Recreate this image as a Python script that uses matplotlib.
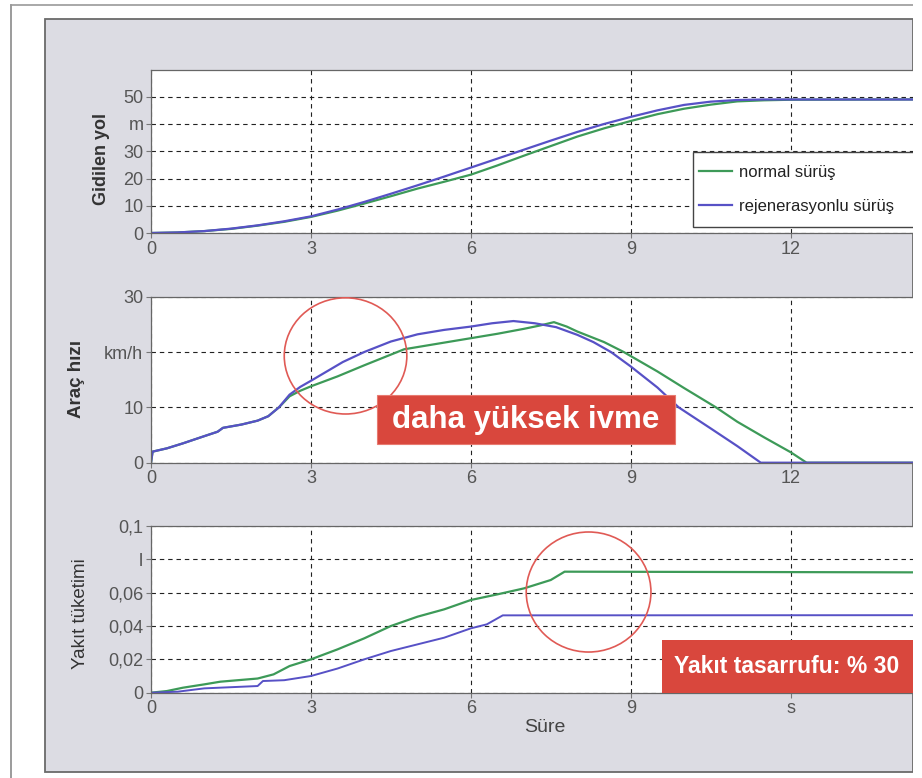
import matplotlib
matplotlib.use("Agg")
import matplotlib.pyplot as plt
from matplotlib.patches import Rectangle, Ellipse

plt.rcParams['font.family'] = ['Liberation Sans', 'DejaVu Sans']

# ---------------- data ----------------
labels = ["normal sürüş", "rejenerasyonlu sürüş"]

# distance (m)
t_dist_norm = [0, 0.5, 1, 1.5, 2, 2.5, 3, 3.5, 4, 4.5, 5, 5.5, 6, 6.5, 7, 7.5, 8, 8.5, 9, 9.5, 10, 10.5, 11, 11.5, 12, 14.3]
d_norm = [0, 0.2, 0.7, 1.5, 2.7, 4.1, 5.9, 8.2, 10.8, 13.5, 16.3, 18.8, 21.4, 24.8, 28.4, 31.9, 35.4, 38.4,
          41.1, 43.6, 45.6, 47.1, 48.3, 48.7, 48.9, 49.0]
t_dist_regen = [0, 0.5, 1, 1.5, 2, 2.5, 3, 3.5, 4, 4.5, 5, 5.5, 6, 6.5, 7, 7.5, 8, 8.5, 9, 9.5, 10, 10.5, 11, 11.5, 14.3]
d_regen = [0, 0.2, 0.7, 1.6, 2.8, 4.3, 6.1, 8.6, 11.4, 14.4, 17.5, 20.7, 24.0, 27.3, 30.6, 33.9, 37.1, 40.0,
           42.6, 45.0, 47.0, 48.2, 48.8, 49.0, 49.0]

# speed (km/h)
t_v_norm = [0, 0.03, 0.3, 0.6, 1.0, 1.25, 1.35, 1.7, 2.0, 2.2, 2.4, 2.6, 2.8, 3.0, 3.5, 4.0, 4.75,
            5.5, 6.0, 6.5, 7.0, 7.3, 7.56, 7.8, 8.0, 8.5, 8.87, 9.5, 10.0, 10.6, 11.0, 11.5, 12.0, 12.3, 14.3]
v_norm = [0, 2.0, 2.6, 3.5, 4.8, 5.6, 6.3, 6.9, 7.6, 8.4, 10.0, 12.0, 13.0, 13.8, 15.6, 17.6, 20.5,
          21.7, 22.5, 23.3, 24.2, 24.8, 25.4, 24.6, 23.7, 21.8, 20.0, 16.5, 13.5, 10.0, 7.4, 4.6, 1.9, 0, 0]
t_v_regen = [0, 0.03, 0.3, 0.6, 1.0, 1.25, 1.35, 1.7, 2.0, 2.2, 2.4, 2.6, 2.8, 3.0, 3.3, 3.6, 4.0, 4.5,
             5.0, 5.5, 6.0, 6.4, 6.8, 7.2, 7.6, 8.0, 8.3, 8.63, 9.0, 9.5, 9.9, 10.5, 11.0, 11.44, 14.3]
v_regen = [0, 2.0, 2.6, 3.5, 4.8, 5.6, 6.3, 6.9, 7.6, 8.4, 10.0, 12.3, 13.7, 14.8, 16.5, 18.2, 20.0, 21.9,
           23.2, 24.0, 24.6, 25.2, 25.6, 25.2, 24.5, 23.1, 21.8, 20.0, 17.4, 13.6, 10.0, 6.2, 3.0, 0, 0]

# fuel consumption (l)
t_f_norm = [0, 0.3, 0.6, 1.0, 1.3, 2.0, 2.3, 2.6, 3.0, 3.5, 4.0, 4.5, 5.0, 5.5, 6.0, 6.5, 7.0, 7.5, 7.76, 14.3]
f_norm = [0, 0.001, 0.003, 0.005, 0.0066, 0.0085, 0.011, 0.016, 0.020, 0.026, 0.0326, 0.040, 0.0456,
          0.050, 0.0556, 0.059, 0.0626, 0.0676, 0.0726, 0.0722]
t_f_regen = [0, 0.5, 1.0, 2.0, 2.1, 2.5, 3.0, 3.5, 4.0, 4.5, 5.0, 5.5, 6.0, 6.3, 6.6, 14.3]
f_regen = [0, 0.0006, 0.0026, 0.004, 0.007, 0.0075, 0.010, 0.0145, 0.020, 0.025, 0.029, 0.033,
           0.0386, 0.041, 0.0464, 0.0465]

x_ticks = [0, 3, 6, 9, 12]
x_ticklabels_top = ['0', '3', '6', '9', '12']
x_ticklabels_bottom = ['0', '3', '6', '9', 's']
y1_ticks = [0, 10, 20, 30, 40, 50]
y1_ticklabels = ['0', '10', '20', '30', 'm', '50']
y2_ticks = [0, 10, 20, 30]
y2_ticklabels = ['0', '10', 'km/h', '30']
y3_ticks = [0, 0.02, 0.04, 0.06, 0.08, 0.1]
y3_ticklabels = ['0', '0,02', '0,04', '0,06', 'l', '0,1']

# ---------------- figure ----------------
W, H = 922, 778
fig = plt.figure(figsize=(W / 100, H / 100), dpi=100)
fig.patch.set_facecolor('white')

def fx(x):
    return x / W

def fy(y):
    return 1 - y / H

# page frame and gray panel
fig.add_artist(plt.Line2D([fx(10.5), fx(10.5)], [fy(5), fy(778)], color='#8a8a8a', lw=1.2, zorder=-2))
fig.add_artist(plt.Line2D([fx(10.5), fx(913)], [fy(5), fy(5)], color='#9a9a9a', lw=1.2, zorder=-2))
fig.add_artist(Rectangle((fx(45), fy(772)), fx(913) - fx(45), fy(19) - fy(772),
                         transform=fig.transFigure, facecolor='#dcdce3', edgecolor='#6a6a6a',
                         lw=1.3, zorder=-1))

GREEN = '#3d9a58'
BLUE = '#5751c6'
X0 = 151
XMAX = (913 - X0) / 53.3

def make_ax(top, bottom):
    ax = fig.add_axes([fx(X0), fy(bottom), fx(913) - fx(X0), fy(top) - fy(bottom)])
    ax.set_facecolor('white')
    ax.set_xlim(0, XMAX)
    for s in ['left', 'bottom', 'top']:
        ax.spines[s].set_color('#666666')
        ax.spines[s].set_linewidth(0.9)
    ax.spines['right'].set_visible(False)
    ax.grid(True, color='#222222', linestyle=(0, (4, 3.5)), linewidth=0.8)
    ax.tick_params(direction='out', length=3.5, width=0.8, color='#777777',
                   labelsize=13, labelcolor='#555555', pad=2)
    ax.set_xticks(x_ticks)
    return ax

ax1 = make_ax(69.5, 233)
ax2 = make_ax(296.7, 462.7)
ax3 = make_ax(526, 692.7)

# axes 1: distance
ax1.set_ylim(0, 60)
ax1.set_yticks(y1_ticks)
ax1.set_yticklabels(y1_ticklabels)
ax1.set_xticklabels(x_ticklabels_top)
ax1.plot(t_dist_norm, d_norm, color=GREEN, lw=1.6, label=labels[0])
ax1.plot(t_dist_regen, d_regen, color=BLUE, lw=1.6, label=labels[1])
# legend frame (cut off at the right edge, as in the scan)
AW, AH = 913 - X0, 233 - 69.5
ax1.add_patch(Rectangle(((693 - X0) / AW, (233 - 227) / AH), (925 - 693) / AW, (227 - 152) / AH,
                        transform=ax1.transAxes, facecolor='white', edgecolor='#444444',
                        lw=1.0, zorder=8, clip_on=False))
leg = ax1.legend(loc='upper left', bbox_to_anchor=((699 - X0) / AW, (233 - 165) / AH),
                 fontsize=12, frameon=False, handlelength=2.0, handletextpad=0.4,
                 labelspacing=1.15, borderpad=0, borderaxespad=0)
leg.set_zorder(9)
for txt in leg.get_texts():
    txt.set_color('#222222')

# axes 2: speed
ax2.set_ylim(0, 30)
ax2.set_yticks(y2_ticks)
ax2.set_yticklabels(y2_ticklabels)
ax2.set_xticklabels(x_ticklabels_top)
ax2.plot(t_v_norm, v_norm, color=GREEN, lw=1.6)
ax2.plot(t_v_regen, v_regen, color=BLUE, lw=1.6)
ax2.add_patch(Ellipse((3.65, 19.3), 2.3, 21.0, fill=False, edgecolor='#e05a55', lw=1.2, zorder=5))
ax2.add_patch(Rectangle((4.24, 3.4), 5.59, 8.8, facecolor='#d9473d', edgecolor='#e87a70', lw=0.8, zorder=6))
ax2.text(7.03, 7.8, 'daha yüksek ivme', color='white', fontsize=22.5, fontweight='bold',
         ha='center', va='center', zorder=7)

# axes 3: fuel
ax3.set_ylim(0, 0.1)
ax3.set_yticks(y3_ticks)
ax3.set_yticklabels(y3_ticklabels)
ax3.set_xticklabels(x_ticklabels_bottom)
ax3.plot(t_f_norm, f_norm, color=GREEN, lw=1.6)
ax3.plot(t_f_regen, f_regen, color=BLUE, lw=1.4)
ax3.add_patch(Ellipse((8.21, 0.0604), 2.34, 0.072, fill=False, edgecolor='#e05a55', lw=1.2, zorder=5))
ax3.add_patch(Rectangle((9.59, 0.0), XMAX - 9.59, 0.0316, facecolor='#d9473d', edgecolor='none', zorder=6))
ax3.text(11.93, 0.0156, 'Yakıt tasarrufu: % 30', color='white', fontsize=16.5, fontweight='bold',
         ha='center', va='center', zorder=7)

# axis labels
fig.text(fx(101), fy(159), 'Gidilen yol', rotation=90, ha='center', va='center',
         fontsize=13, fontweight='bold', color='#333333')
fig.text(fx(76), fy(379), 'Araç hızı', rotation=90, ha='center', va='center',
         fontsize=13.5, fontweight='bold', color='#333333')
fig.text(fx(80), fy(614), 'Yakıt tüketimi', rotation=90, ha='center', va='center',
         fontsize=13.5, color='#333333')
fig.text(fx(545), fy(728), 'Süre', ha='center', va='center', fontsize=14, color='#444444')

# right edge crop (scan cut-off)
fig.add_artist(Rectangle((fx(913), 0), 1 - fx(913), 1, transform=fig.transFigure,
                         facecolor='white', edgecolor='none', zorder=20))

fig.savefig('out.png', dpi=100)
